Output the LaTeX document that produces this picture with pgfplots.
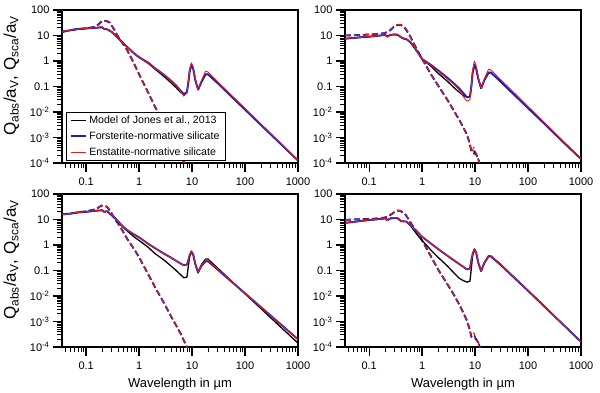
\documentclass[border=0pt]{standalone}
\usepackage{fontspec}
\setmainfont{Liberation Sans}
\usepackage{pgfplots}
\usepackage{pgfplotstable}
\pgfplotsset{compat=1.18}
\definecolor{cblu}{RGB}{30,30,190}
\definecolor{cred}{RGB}{225,30,30}

% absorption (solid) and scattering (dashed), columns: black / blue / red model
\pgfplotstableread{
lam blk blu red
0.035 14 14 14.5
0.05 16 16 16
0.07 18 18 18
0.1 19 19 19
0.15 20 20 20
0.2 21 21 22
0.22 18 18 18.5
0.25 17.5 17.5 18
0.3 14 14 14
0.35 10.5 10.5 10.5
0.4 8 8 8
0.5 5 5 5
0.6 3.5 3.5 3.5
0.8 2.0 2.0 2.0
1 1.4 1.4 1.4
1.5 0.8 0.85 0.85
2 0.48 0.52 0.52
3 0.24 0.28 0.28
4 0.14 0.17 0.17
5 0.09 0.11 0.11
6 0.06 0.07 0.065
7 0.05 0.05 0.042
8 0.06 0.06 0.055
8.5 0.15 0.14 0.15
9 0.4 0.4 0.45
9.7 0.7 0.7 0.85
10.5 0.5 0.5 0.6
11.5 0.18 0.18 0.2
13 0.075 0.075 0.075
15 0.15 0.15 0.17
18 0.3 0.3 0.4
20 0.3 0.3 0.37
30 0.14 0.14 0.16
50 0.05 0.05 0.056
100 0.0125 0.0125 0.014
200 3.1e-3 3.1e-3 3.4e-3
500 5e-4 5e-4 5.3e-4
1000 1.25e-4 1.25e-4 1.3e-4
}\tlS
\pgfplotstableread{
lam blk blu red
0.035 14 14 14
0.05 16 16 16
0.07 18 18 18
0.1 19 19 19
0.15 22 22 22
0.18 30 30 28
0.2 37 37 34
0.22 38 38 37
0.25 36 36 38
0.28 32 32 33
0.3 26 26 27
0.35 15 15 16
0.4 9 9 9.5
0.5 4.6 4.6 4.8
0.6 2.6 2.6 2.6
0.8 0.8 0.8 0.8
1 0.3 0.3 0.3
1.5 0.055 0.055 0.055
2 0.016 0.016 0.016
3 3.2e-3 3.2e-3 3.2e-3
5 4e-4 4e-4 4e-4
7 1.1e-4 1.1e-4 1.1e-4
8 6.5e-5 6.5e-5 6.5e-5
}\tlD
\pgfplotstableread{
lam blk blu red
0.035 7.5 7.5 7.5
0.05 8 8 8
0.07 8.5 8.5 8.5
0.1 9 9 9
0.15 9.8 9.8 9.8
0.2 10.5 10.5 10.5
0.22 9 9.2 8.5
0.25 10.5 10.5 10.5
0.3 11 11 11.5
0.35 10.5 10.5 11
0.4 8.5 8.5 8.5
0.45 7.5 7.5 7.5
0.5 7.3 7.3 7.3
0.6 5.5 5.5 5.8
0.7 3.6 3.6 3.8
0.8 2.4 2.4 2.4
1 1.2 1.2 1.2
1.5 0.6 0.68 0.66
2 0.33 0.43 0.4
3 0.16 0.22 0.2
4 0.09 0.13 0.12
5 0.06 0.085 0.075
6 0.045 0.055 0.04
7 0.038 0.038 0.027
8 0.04 0.04 0.03
8.5 0.1 0.1 0.1
9 0.35 0.35 0.45
9.7 0.7 0.7 1.0
10.5 0.5 0.5 0.65
11.5 0.2 0.2 0.22
13 0.085 0.085 0.085
15 0.18 0.18 0.2
18 0.35 0.35 0.48
20 0.35 0.35 0.44
30 0.16 0.16 0.19
50 0.057 0.057 0.068
100 0.0143 0.0143 0.0165
200 3.6e-3 3.6e-3 4e-3
500 5.7e-4 5.7e-4 6.1e-4
1000 1.43e-4 1.43e-4 1.5e-4
}\trS
\pgfplotstableread{
lam blk blu red
0.035 10 10 10
0.05 10.2 10.2 10.2
0.07 10.5 10.5 10.5
0.1 11 11 11
0.15 11.5 11.5 11.5
0.2 12.5 12.5 12.5
0.25 16 16 17
0.3 23 23 24
0.35 26 26 27
0.4 26 26 27
0.45 22 22 23
0.5 17 17 18
0.6 9 9 9
0.7 4.8 4.8 4.8
0.8 2.8 2.8 2.8
1 1.2 1.2 1.2
1.5 0.28 0.28 0.28
2 0.11 0.11 0.11
3 0.03 0.03 0.03
4 0.011 0.011 0.011
5 5e-3 5e-3 5e-3
6 2.5e-3 2.5e-3 2.5e-3
7 1.3e-3 1.3e-3 1.3e-3
8 5.5e-4 5.5e-4 5.5e-4
8.5 2.8e-4 2.8e-4 2.6e-4
9.5 3e-4 2.4e-4 4.2e-4
10.5 2.2e-4 2.2e-4 2.5e-4
11.5 1.4e-4 1.4e-4 1.4e-4
12.5 8e-5 8e-5 8e-5
13.5 5e-5 5e-5 5e-5
}\trD
\pgfplotstableread{
lam blk blu red
0.035 16 16 16
0.05 17 17 17
0.07 19 19 19
0.1 20 20 20
0.15 22 22 22
0.2 23 23 23
0.22 20 20 19
0.25 21 21 22
0.3 15 15 16
0.35 11 11.5 11.5
0.4 8 8.5 8.5
0.5 5 5.2 5.2
0.6 3.5 3.8 3.8
0.8 2.1 2.6 2.6
1 1.5 2.0 2.0
1.5 0.8 1.1 1.1
2 0.46 0.75 0.75
3 0.25 0.45 0.45
4 0.15 0.32 0.32
5 0.1 0.24 0.24
6 0.07 0.19 0.19
7 0.052 0.16 0.16
8 0.055 0.17 0.17
8.5 0.15 0.25 0.26
9 0.35 0.4 0.42
9.7 0.55 0.55 0.6
10.5 0.42 0.42 0.45
11.5 0.18 0.18 0.18
13 0.08 0.085 0.085
15 0.17 0.15 0.16
18 0.28 0.23 0.26
20 0.28 0.23 0.25
30 0.127 0.111 0.115
50 0.047 0.044 0.045
100 0.0123 0.0127 0.0128
200 3.2e-3 3.65e-3 3.65e-3
500 5.4e-4 7e-4 7e-4
1000 1.42e-4 2e-4 2e-4
}\blS
\pgfplotstableread{
lam blk blu red
0.035 16 16 16
0.05 17 17 17
0.07 19 19 19
0.1 21 21 21
0.15 25 25 25
0.18 32 32 32
0.2 35 35 35
0.22 35 35 35
0.25 31 31 32
0.3 18 18 19
0.35 10 10 10.5
0.4 7 7 7
0.5 3.3 3.3 3.3
0.6 1.7 1.7 1.7
0.8 0.7 0.7 0.7
1 0.33 0.33 0.33
1.5 0.068 0.068 0.068
2 0.022 0.022 0.022
3 5e-3 5e-3 5e-3
4 1.6e-3 1.6e-3 1.6e-3
5 7e-4 7e-4 7e-4
6 3.5e-4 3.5e-4 3.5e-4
7 1.8e-4 1.8e-4 1.8e-4
8 1e-4 1e-4 1e-4
9 6e-5 6e-5 6e-5
}\blD
\pgfplotstableread{
lam blk blu red
0.035 7.4 7.4 7.4
0.05 8 8 8
0.07 8.8 8.8 8.8
0.1 9.5 9.5 9.5
0.15 10.3 10.3 10.3
0.2 11 11 11
0.22 9.5 9.5 9
0.25 11 11 11.5
0.3 11.5 11.5 12
0.35 11 11 11.5
0.4 8.6 8.6 8.8
0.5 8.3 8.3 8.3
0.6 5.8 6 6
0.7 3.8 4.3 4.3
0.8 2.6 3.4 3.4
1 1.5 2.1 2.1
1.5 0.6 1.1 1.1
2 0.33 0.7 0.7
3 0.15 0.38 0.38
4 0.08 0.25 0.25
5 0.05 0.18 0.18
6 0.04 0.14 0.14
7 0.035 0.11 0.11
8 0.038 0.12 0.12
8.5 0.12 0.25 0.25
9 0.4 0.45 0.45
9.7 0.68 0.68 0.72
10.5 0.5 0.5 0.52
11.5 0.2 0.2 0.2
13 0.095 0.095 0.097
15 0.2 0.2 0.2
18 0.38 0.36 0.38
20 0.37 0.35 0.37
30 0.18 0.17 0.18
50 0.065 0.062 0.065
100 0.0165 0.016 0.0165
200 4.1e-3 4e-3 4.1e-3
500 6.5e-4 6.4e-4 6.5e-4
1000 1.6e-4 1.6e-4 1.6e-4
}\brS
\pgfplotstableread{
lam blk blu red
0.035 9.7 9.7 9.7
0.05 10 10 10
0.07 10.3 10.3 10.3
0.1 10.5 10.5 10.5
0.15 11 11 11
0.2 12 12 12
0.25 15 15 15.5
0.3 19.5 19.5 20
0.35 22.5 22.5 23
0.4 21 21 22
0.45 18 18 19
0.5 14.4 14.4 15
0.6 7.8 7.8 7.8
0.7 4.8 4.8 4.8
0.8 3.2 3.2 3.2
1 1.5 1.5 1.5
1.5 0.33 0.33 0.33
2 0.11 0.11 0.11
3 0.029 0.029 0.029
4 0.011 0.011 0.011
5 4.7e-3 4.7e-3 4.7e-3
6 2.2e-3 2.2e-3 2.2e-3
7 1.1e-3 1.1e-3 1.1e-3
8 4.5e-4 4.5e-4 4.5e-4
8.5 2.5e-4 2.5e-4 2.5e-4
9.5 3e-4 2.4e-4 3.6e-4
10.5 2e-4 2e-4 2e-4
11.5 1.5e-4 1.5e-4 1.5e-4
12.5 9e-5 9e-5 9e-5
13.5 5e-5 5e-5 5e-5
}\brD

% shared look of all four panels
\pgfplotsset{
  every axis/.append style={
    scale only axis,
    width=236bp, height=153bp,
    xmin=0.035, xmax=1000, ymin=1e-4, ymax=100,
    xtick={0.1,1,10,100,1000},
    xticklabels={0.1,1,10,100,1000},
    minor xtick={0.04,0.05,0.06,0.07,0.08,0.09,0.2,0.3,0.4,0.5,0.6,0.7,0.8,0.9,2,3,4,5,6,7,8,9,20,30,40,50,60,70,80,90,200,300,400,500,600,700,800,900},
    ytick={1e-4,1e-3,1e-2,0.1,1,10,100},
    yticklabels={10\textsuperscript{-4},10\textsuperscript{-3},10\textsuperscript{-2},0.1,1,10,100},
    minor ytick={2e-4,3e-4,4e-4,5e-4,6e-4,7e-4,8e-4,9e-4,2e-3,3e-3,4e-3,5e-3,6e-3,7e-3,8e-3,9e-3,0.02,0.03,0.04,0.05,0.06,0.07,0.08,0.09,0.2,0.3,0.4,0.5,0.6,0.7,0.8,0.9,2,3,4,5,6,7,8,9,20,30,40,50,60,70,80,90},
    tick align=outside, xtick pos=bottom, ytick pos=left,
    major tick length=9bp, minor tick length=5bp,
    axis line style={line width=1.5bp},
    major tick style={line width=1.3bp, black},
    minor tick style={line width=0.8bp, black},
    tick label style={font=\fontsize{11bp}{12bp}\selectfont},
    xticklabel style={yshift=-2bp},
    ylabel style={font=\fontsize{17bp}{18bp}\selectfont, at={(axis description cs:-0.215,0.57)}, anchor=center},
    xlabel style={font=\fontsize{13bp}{14bp}\selectfont, at={(axis description cs:0.5,-0.24)}, anchor=center},
  },
}
\tikzset{
  cB/.style={black, line width=1.3bp, line join=round},
  cU/.style={cblu, line width=1.9bp, line join=round},
  cR/.style={cred, line width=0.9bp, line join=round},
  dsh/.style={dash pattern=on 6bp off 3bp},
}

\begin{document}
\begin{tikzpicture}
\useasboundingbox (0bp,0bp) rectangle (600bp,393bp);

% top left
\begin{loglogaxis}[at={(62bp,230bp)}, anchor=south west,
  ylabel={Q\textsubscript{abs}/a\textsubscript{V}, Q\textsubscript{sca}/a\textsubscript{V}},
  legend style={at={(axis description cs:0.017,0.013)}, anchor=south west,
    draw=black, line width=0.8bp, fill=white,
    font=\fontsize{10.6bp}{12bp}\selectfont, inner xsep=4bp, inner ysep=2bp, row sep=2.5bp,
    cells={anchor=west}},
  legend cell align=left,
  legend image code/.code={\draw[#1] (0bp,0bp) -- (15bp,0bp);}]
\addplot[cB, dsh, forget plot] table[x=lam,y=blk] {\tlD};
\addplot[cU, dsh, forget plot] table[x=lam,y=blu] {\tlD};
\addplot[cR, dsh, forget plot] table[x=lam,y=red] {\tlD};
\addplot[cB] table[x=lam,y=blk] {\tlS};
\addlegendentry{Model of Jones et al., 2013}
\addplot[cU] table[x=lam,y=blu] {\tlS};
\addlegendentry{Forsterite-normative silicate}
\addplot[cR] table[x=lam,y=red] {\tlS};
\addlegendentry{Enstatite-normative silicate}
\end{loglogaxis}

% top right
\begin{loglogaxis}[at={(345bp,230bp)}, anchor=south west]
\addplot[cB, dsh] table[x=lam,y=blk] {\trD};
\addplot[cU, dsh] table[x=lam,y=blu] {\trD};
\addplot[cR, dsh] table[x=lam,y=red] {\trD};
\addplot[cB] table[x=lam,y=blk] {\trS};
\addplot[cU] table[x=lam,y=blu] {\trS};
\addplot[cR] table[x=lam,y=red] {\trS};
\end{loglogaxis}

% bottom left
\begin{loglogaxis}[at={(62bp,46bp)}, anchor=south west,
  ylabel={Q\textsubscript{abs}/a\textsubscript{V}, Q\textsubscript{sca}/a\textsubscript{V}},
  xlabel={Wavelength in µm}]
\addplot[cB, dsh] table[x=lam,y=blk] {\blD};
\addplot[cU, dsh] table[x=lam,y=blu] {\blD};
\addplot[cR, dsh] table[x=lam,y=red] {\blD};
\addplot[cB] table[x=lam,y=blk] {\blS};
\addplot[cU] table[x=lam,y=blu] {\blS};
\addplot[cR] table[x=lam,y=red] {\blS};
\end{loglogaxis}

% bottom right
\begin{loglogaxis}[at={(345bp,46bp)}, anchor=south west,
  xlabel={Wavelength in µm}]
\addplot[cB, dsh] table[x=lam,y=blk] {\brD};
\addplot[cU, dsh] table[x=lam,y=blu] {\brD};
\addplot[cR, dsh] table[x=lam,y=red] {\brD};
\addplot[cB] table[x=lam,y=blk] {\brS};
\addplot[cU] table[x=lam,y=blu] {\brS};
\addplot[cR] table[x=lam,y=red] {\brS};
\end{loglogaxis}
\end{tikzpicture}
\end{document}
